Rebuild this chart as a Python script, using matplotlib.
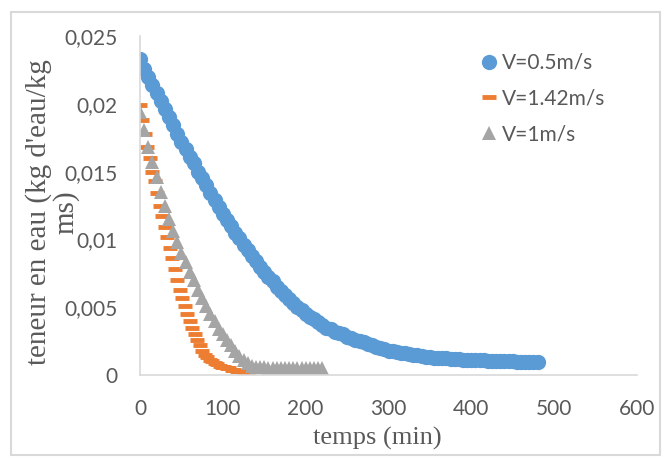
import matplotlib.pyplot as plt
from matplotlib.patches import Rectangle

# V = 0.5 m/s, one point every 5 min
t_05 = list(range(0, 485, 5))
x_05 = [0.0233, 0.0226, 0.0220, 0.0214, 0.0208, 0.0202, 0.0196, 0.0190, 0.0184, 0.0178,
        0.0172, 0.0167, 0.0161, 0.0156, 0.0150, 0.0145, 0.0140, 0.0134, 0.0129, 0.0124,
        0.0119, 0.0114, 0.0110, 0.0105, 0.0101, 0.0096, 0.0092, 0.0088, 0.0084, 0.0080,
        0.0076, 0.0072, 0.0069, 0.0065, 0.0062, 0.0059, 0.0056, 0.0053, 0.0050, 0.0048,
        0.0045, 0.0043, 0.0041, 0.0039, 0.0037, 0.0035, 0.0034, 0.0032, 0.0031, 0.0030,
        0.0028, 0.0027, 0.0026, 0.0025, 0.0024, 0.0023, 0.0022, 0.0021, 0.0020, 0.0019,
        0.0018, 0.00175, 0.0017, 0.00165, 0.0016, 0.00155, 0.0015, 0.00145, 0.0014, 0.00135,
        0.0013, 0.00128, 0.00126, 0.00124, 0.00122, 0.0012, 0.00118, 0.00116, 0.00114, 0.00112,
        0.0011, 0.00109, 0.00108, 0.00107, 0.00106, 0.00105, 0.00104, 0.00103, 0.00102, 0.00101,
        0.0010, 0.00099, 0.00098, 0.00098, 0.00097, 0.00097, 0.00096]

# V = 1.42 m/s, one point every 3 min
t_142 = list(range(0, 135, 3))
x_142 = [0.0199, 0.0188, 0.0178, 0.0168, 0.0160, 0.0150, 0.0143, 0.0134, 0.0125, 0.0117,
         0.0109, 0.0102, 0.0094, 0.0086, 0.0078, 0.0070, 0.0063, 0.0057, 0.0051, 0.0045,
         0.0040, 0.0035, 0.0030, 0.0026, 0.0022, 0.0018, 0.0015, 0.0013, 0.0011, 0.0010,
         0.0009, 0.0008, 0.0007, 0.0006, 0.0006, 0.0005, 0.0005, 0.0004, 0.0004, 0.0003,
         0.0003, 0.0003, 0.0002, 0.0002, 0.0002]

# V = 1 m/s, one point every 5 min
t_1 = list(range(0, 225, 5))
x_1 = [0.0194, 0.0181, 0.0168, 0.0157, 0.0146, 0.0135, 0.0125, 0.0115, 0.0106, 0.0098,
       0.0090, 0.0083, 0.0076, 0.0070, 0.0063, 0.0057, 0.0051, 0.0045, 0.0040, 0.0034,
       0.0030, 0.0026, 0.0022, 0.0018, 0.0014, 0.0011, 0.0009, 0.0007, 0.0006, 0.0006,
       0.0006, 0.0005, 0.0005, 0.0005, 0.0005, 0.0005, 0.0005, 0.0005, 0.0005, 0.0005,
       0.0005, 0.0005, 0.0005, 0.0005, 0.0005]

y_ticks = [0, 0.005, 0.01, 0.015, 0.02, 0.025]
y_labels = ['0', '0,005', '0,01', '0,015', '0,02', '0,025']
x_ticks = [0, 100, 200, 300, 400, 500, 600]

blue = '#5B9BD5'
orange = '#ED7D31'
gray = '#A5A5A5'
txt = '#595959'

fig = plt.figure(figsize=(6.68, 4.62), dpi=100)
ax = fig.add_axes([140/668, 1-375/462, 497/668, 339/462])

ax.plot(t_05, x_05, 'o', color=blue, ms=11, mew=0, label='V=0.5m/s')
ax.plot(t_142, x_142, '_', color=orange, ms=10, mew=3.5, label='V=1.42m/s')
ax.plot(t_1, x_1, '^', color=gray, ms=10, mew=0, label='V=1m/s')

ax.set_xlim(0, 600)
ax.set_ylim(0, 0.025)
ax.set_xticks(x_ticks)
ax.set_yticks(y_ticks)
ax.set_yticklabels(y_labels)
ax.tick_params(length=0, labelsize=15, labelcolor=txt)
ax.tick_params(axis='x', pad=17)
ax.tick_params(axis='y', pad=16)
for lab in ax.get_xticklabels() + ax.get_yticklabels():
    lab.set_family('Lato')
for s in ['top', 'right']:
    ax.spines[s].set_visible(False)
for s in ['left', 'bottom']:
    ax.spines[s].set_color('#d9d9d9')
    ax.spines[s].set_linewidth(1.2)

leg = ax.legend(loc='upper left', bbox_to_anchor=(0.665, 0.975), frameon=False,
                prop={'family': 'Lato', 'size': 15}, handletextpad=0.1,
                handlelength=1.0, labelspacing=0.75, borderaxespad=0)
for t in leg.get_texts():
    t.set_color(txt)

fig.text(377/668, 1-438/462, 'temps (min)', family='Liberation Serif', size=19,
         color=txt, ha='center', va='center')
fig.text(52/668, 1-212/462, "teneur en eau (kg d'eau/kg\nms)", family='Liberation Serif',
         size=21, color=txt, ha='center', va='center', rotation=90,
         multialignment='center', linespacing=1.0)

fig.patches.append(Rectangle((11/668, 1-455/462), 649/668, 443/462, transform=fig.transFigure,
                             fill=False, edgecolor='#d9d9d9', lw=1.5))

fig.savefig('out.png', dpi=100)
